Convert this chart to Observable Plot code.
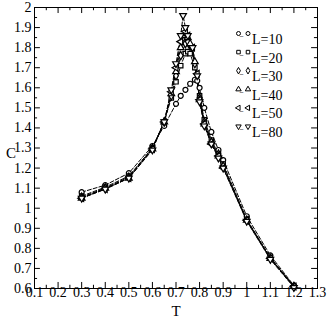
<!DOCTYPE html>
<html><head><meta charset="utf-8">
<script src="https://cdn.jsdelivr.net/npm/d3@7"></script>
<script src="https://cdn.jsdelivr.net/npm/@observablehq/plot@0.6"></script>
<style>body{margin:0;background:#fff}</style>
</head><body><div id="chart"></div>
<script>
const seriesNames = ["L=10","L=20","L=30","L=40","L=50","L=80"];
const T10 = [0.3,0.4,0.5,0.6,0.65,0.7,0.72,0.74,0.76,0.78,0.79,0.8,0.82,0.85,0.88,0.9,1.0,1.1,1.2];
const C10 = [1.08,1.115,1.175,1.31,1.41,1.52,1.56,1.59,1.62,1.64,1.635,1.60,1.50,1.38,1.29,1.24,0.96,0.765,0.615];
const T20 = [0.3,0.4,0.5,0.6,0.65,0.68,0.7,0.72,0.74,0.75,0.76,0.78,0.8,0.82,0.85,0.88,0.9,1.0,1.1,1.2];
const C20 = [1.06,1.105,1.16,1.30,1.43,1.55,1.63,1.71,1.77,1.78,1.77,1.70,1.56,1.44,1.34,1.27,1.22,0.945,0.755,0.61];
const T30 = [0.3,0.4,0.5,0.6,0.65,0.68,0.7,0.72,0.74,0.75,0.76,0.78,0.8,0.82,0.85,0.88,0.9,1.0,1.1,1.2];
const C30 = [1.055,1.10,1.155,1.30,1.43,1.56,1.66,1.76,1.82,1.83,1.81,1.72,1.55,1.43,1.33,1.27,1.21,0.94,0.75,0.61];
const T40 = [0.3,0.4,0.5,0.6,0.65,0.68,0.7,0.72,0.74,0.75,0.76,0.78,0.8,0.82,0.85,0.88,0.9,1.0,1.1,1.2];
const C40 = [1.05,1.10,1.15,1.295,1.43,1.57,1.68,1.80,1.86,1.85,1.82,1.73,1.54,1.42,1.33,1.26,1.21,0.94,0.75,0.61];
const T50 = [0.3,0.4,0.5,0.6,0.65,0.68,0.7,0.72,0.74,0.75,0.77,0.79,0.8,0.82,0.85,0.88,0.9,1.0,1.1,1.2];
const C50 = [1.05,1.095,1.15,1.295,1.43,1.58,1.70,1.83,1.88,1.86,1.80,1.67,1.54,1.42,1.32,1.26,1.20,0.94,0.75,0.61];
const T80 = [0.3,0.4,0.5,0.6,0.65,0.68,0.7,0.72,0.73,0.74,0.75,0.77,0.79,0.8,0.82,0.85,0.88,0.9,1.0,1.1,1.2];
const C80 = [1.05,1.095,1.15,1.29,1.43,1.59,1.72,1.86,1.96,1.90,1.86,1.80,1.66,1.53,1.41,1.32,1.25,1.20,0.935,0.745,0.605];
const xTicks = [0.1,0.2,0.3,0.4,0.5,0.6,0.7,0.8,0.9,1,1.1,1.2,1.3];
const xMinor = [0.15,0.25,0.35,0.45,0.55,0.65,0.75,0.85,0.95,1.05,1.15,1.25];
const yTicks = [0.6,0.7,0.8,0.9,1,1.1,1.2,1.3,1.4,1.5,1.6,1.7,1.8,1.9,2];
const yMinor = [0.65,0.75,0.85,0.95,1.05,1.15,1.25,1.35,1.45,1.55,1.65,1.75,1.85,1.95];

const Ts = [T10,T20,T30,T40,T50,T80];
const Cs = [C10,C20,C30,C40,C50,C80];
const rows = [];
seriesNames.forEach((s,i) => Ts[i].forEach((t,j) => rows.push({L:s, T:t, C:Cs[i][j]})));

const s3 = Math.sqrt(3);
const triLeft = {draw(ctx, size){ const y = -Math.sqrt(size/(s3*3)); ctx.moveTo(y*2,0); ctx.lineTo(-y,-s3*y); ctx.lineTo(-y,s3*y); ctx.closePath(); }};
const triDown = {draw(ctx, size){ const y = -Math.sqrt(size/(s3*3)); ctx.moveTo(0,-y*2); ctx.lineTo(s3*y,y); ctx.lineTo(-s3*y,y); ctx.closePath(); }};
const symbols = [d3.symbolCircle, d3.symbolSquare, d3.symbolDiamond, d3.symbolTriangle, triLeft, triDown];
const symOf = Object.fromEntries(seriesNames.map((s,i)=>[s,symbols[i]]));

const font = "Liberation Serif, Times New Roman, serif";
const legendMarks = [];
seriesNames.forEach((s,i) => {
  const dy = 26 + 18.6*i;
  legendMarks.push(Plot.dot([0], {x:null, y:null, frameAnchor:"top-right", dx:-79, dy, symbol: ()=>symOf[s], r:2, stroke:"black", fill:"white", strokeWidth:1}));
  legendMarks.push(Plot.dot([0], {x:null, y:null, frameAnchor:"top-right", dx:-69.5, dy, symbol: ()=>symOf[s], r:2, stroke:"black", fill:"white", strokeWidth:1}));
  legendMarks.push(Plot.text([0], {x:null, y:null, frameAnchor:"top-right", dx:-74.2, dy, text: ()=>"–", fontSize:7, fontWeight:"bold", fontFamily:font, fill:"black"}));
  legendMarks.push(Plot.text([0], {x:null, y:null, frameAnchor:"top-right", dx:-65.5, dy:dy+0.5, text: ()=>s, textAnchor:"start", fontSize:14, fontFamily:font, fill:"black"}));
});

const chart = Plot.plot({
  width: 327, height: 327,
  marginLeft: 34, marginRight: 10, marginTop: 7, marginBottom: 39,
  style: {fontFamily: font, background: "white", overflow: "visible"},
  x: {domain: [0.1, 1.3]},
  y: {domain: [0.6, 2]},
  symbol: {type: "identity"},
  marks: [
    Plot.axisX(xTicks, {tickSize: 0, tickPadding: -1, fontSize: 14, tickFormat: d => String(d), label: null, fill: "black"}),
    Plot.axisY(yTicks, {tickSize: 0, tickPadding: 3, fontSize: 14, tickFormat: d => String(d), label: null, fill: "black"}),
    Plot.ruleX(xTicks, {x: d => d, y1: 0.6, y2: 0.6 + 0.03, stroke: "black"}),
    Plot.ruleX(xMinor, {x: d => d, y1: 0.6, y2: 0.6 + 0.016, stroke: "black"}),
    Plot.ruleX(xTicks, {x: d => d, y1: 2, y2: 2 - 0.03, stroke: "black"}),
    Plot.ruleX(xMinor, {x: d => d, y1: 2, y2: 2 - 0.016, stroke: "black"}),
    Plot.ruleY(yTicks, {y: d => d, x1: 0.1, x2: 0.1 + 0.025, stroke: "black"}),
    Plot.ruleY(yMinor, {y: d => d, x1: 0.1, x2: 0.1 + 0.013, stroke: "black"}),
    Plot.ruleY(yTicks, {y: d => d, x1: 1.3, x2: 1.3 - 0.025, stroke: "black"}),
    Plot.ruleY(yMinor, {y: d => d, x1: 1.3, x2: 1.3 - 0.013, stroke: "black"}),
    Plot.line(rows, {x: "T", y: "C", z: "L", stroke: "black", strokeWidth: 1, strokeDasharray: "4,2"}),
    Plot.dot(rows, {x: "T", y: "C", symbol: d => symOf[d.L], r: 2.5, stroke: "black", fill: "white", strokeWidth: 1.2}),
    Plot.frame({stroke: "black", strokeWidth: 1}),
    Plot.text(["T"], {frameAnchor: "bottom", dy: 27, text: d => d, fontSize: 15, fontFamily: font, fill: "black"}),
    Plot.text(["C"], {frameAnchor: "left", dx: -28.5, dy: 5, text: d => d, fontSize: 15, fontFamily: font, fill: "black"}),
    ...legendMarks
  ]
});
document.getElementById("chart").appendChild(chart);
</script>
</body></html>
